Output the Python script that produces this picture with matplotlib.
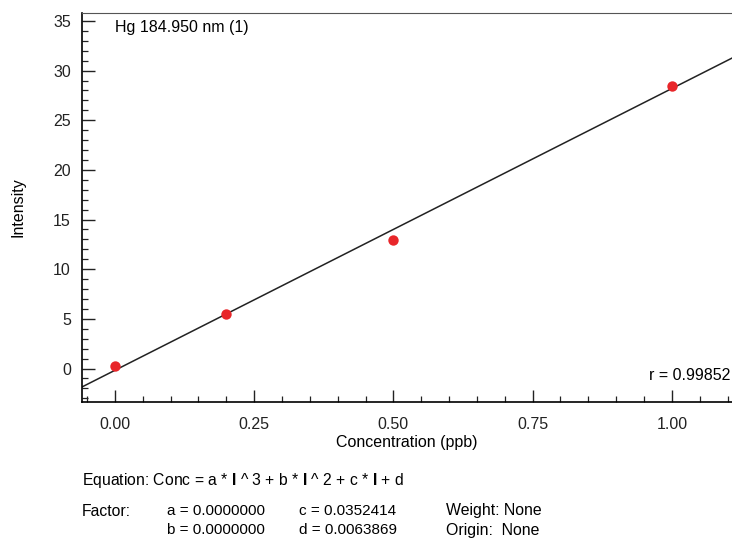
import numpy as np
import matplotlib.pyplot as plt
from matplotlib.ticker import MultipleLocator

plt.rcParams["font.family"] = ["Liberation Sans", "DejaVu Sans"]
plt.rcParams["mathtext.fontset"] = "custom"
plt.rcParams["mathtext.rm"] = "Liberation Sans"
plt.rcParams["mathtext.bf"] = "Liberation Sans:bold"

# calibration standards
conc = [0.0, 0.2, 0.5, 1.0]
intensity = [0.26, 5.5, 12.95, 28.4]

# fit factors as printed: Conc = c * I + d
coef_a = 0.0
coef_b = 0.0
coef_c = 0.0352414
coef_d = 0.0063869
r_value = 0.99852

FS = 11.5

fig = plt.figure(figsize=(7.32, 5.39), dpi=100)
ax = fig.add_axes([82 / 732, 1 - 402 / 539, 650 / 732, 389 / 539])

xlim = (-0.059, 1.108)
xs = np.array(xlim)
ax.plot(xs, (xs - coef_d) / coef_c, color="#222222", lw=1.1, zorder=2)
ax.scatter(conc, intensity, s=56, color="#e8262a", zorder=3, linewidths=0)

ax.set_xlim(*xlim)
ax.set_ylim(-3.37, 35.8)
ax.xaxis.set_major_locator(MultipleLocator(0.25))
ax.xaxis.set_minor_locator(MultipleLocator(0.05))
ax.yaxis.set_major_locator(MultipleLocator(5))
ax.yaxis.set_minor_locator(MultipleLocator(1))
ax.xaxis.set_major_formatter(lambda v, p: f"{v:.2f}")

ax.spines["right"].set_visible(False)
ax.spines["top"].set_color("#555555")
for s in ("left", "bottom"):
    ax.spines[s].set_linewidth(1.2)
ax.tick_params(which="both", direction="in", top=False, right=False,
               labelsize=FS, colors="#222222")
ax.tick_params(which="major", length=9, width=1.0)
ax.tick_params(axis="x", which="major", pad=11)
ax.tick_params(axis="y", which="major", pad=8)
ax.tick_params(which="minor", length=4, width=0.9)

ax.set_xlabel("Concentration (ppb)", fontsize=FS, labelpad=2)
ax.set_ylabel("Intensity", fontsize=FS, labelpad=20)

ax.text(0.0, 34.3, "Hg 184.950 nm (1)", fontsize=FS, va="center", ha="left")
ax.text(1.105, -0.7, f"r = {r_value:.5f}", fontsize=FS, va="center", ha="right")

def ftxt(x, y, s, fs=FS):
    fig.text(x / 732, 1 - y / 539, s, fontsize=fs, va="center", ha="left")

ftxt(82, 481, r"Equation: Conc = a * $\mathbf{I}$ ^ 3 + b * $\mathbf{I}$ ^ 2 + c * $\mathbf{I}$ + d", 11.3)
ftxt(82, 511, "Factor:", 11.3)
ftxt(167, 511, f"a = {coef_a:.7f}", 11)
ftxt(167, 530, f"b = {coef_b:.7f}", 11)
ftxt(299, 511, f"c = {coef_c:.7f}", 11)
ftxt(299, 530, f"d = {coef_d:.7f}", 11)
ftxt(446, 511, "Weight: None", 11.4)
ftxt(446, 530, "Origin:  None", 11.4)

fig.savefig("out.png", dpi=100)
